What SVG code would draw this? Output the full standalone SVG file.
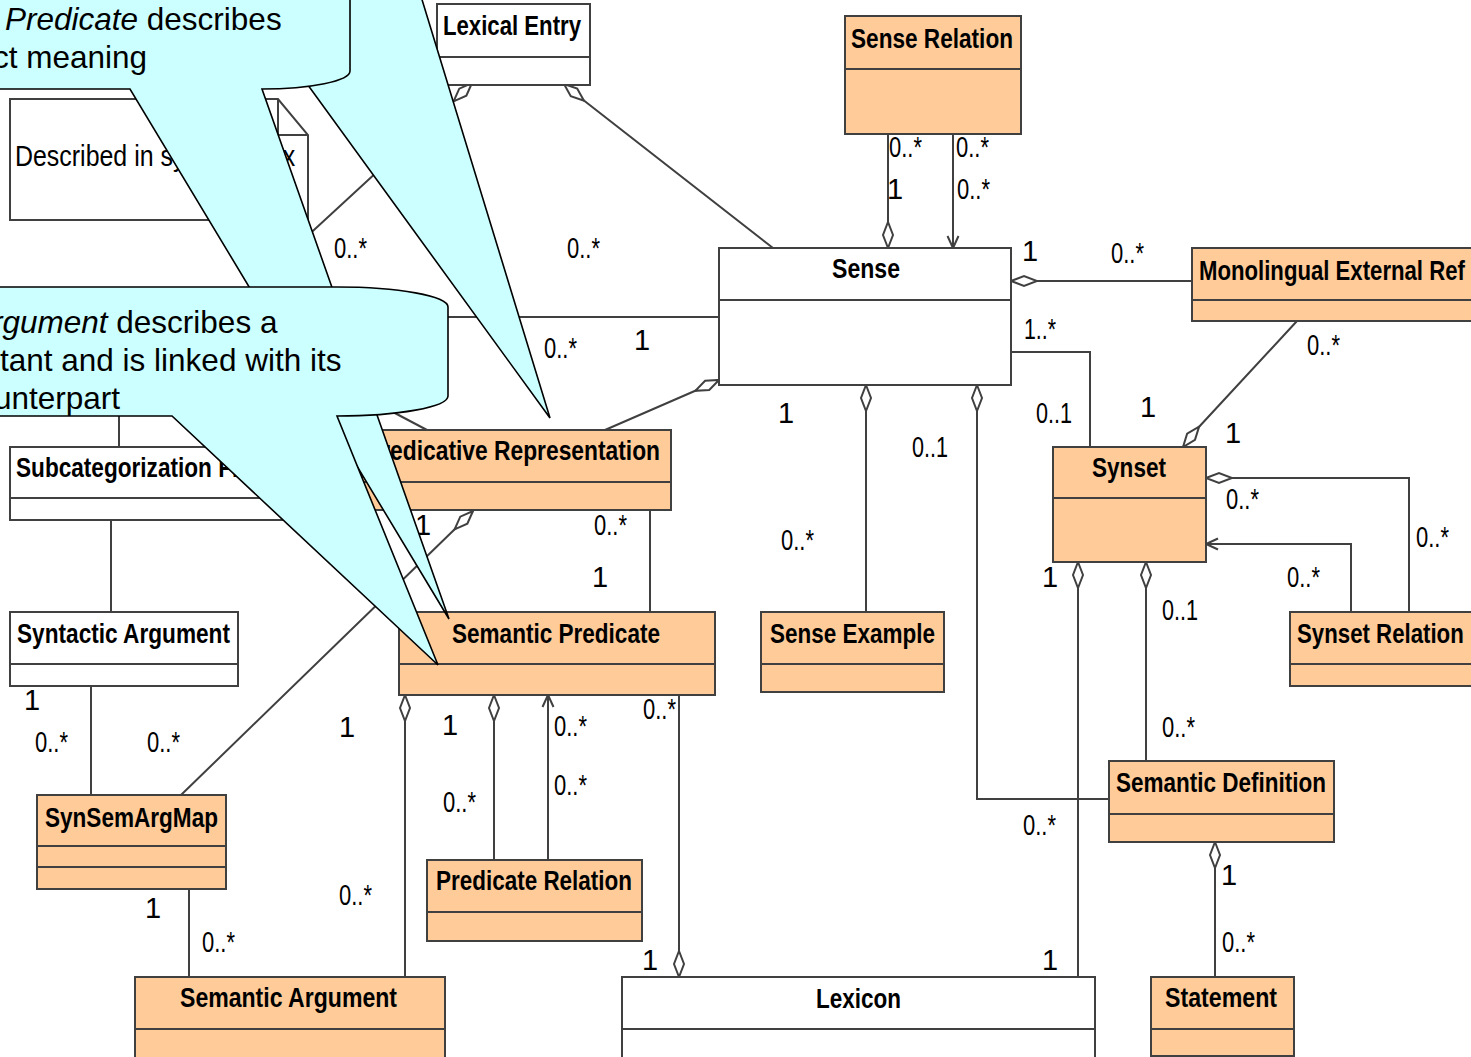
<svg xmlns="http://www.w3.org/2000/svg" width="1471" height="1057" viewBox="0 0 1471 1057">
<style>
.cn{fill:none;stroke:#404040;stroke-width:2}
.box{stroke:#404040;stroke-width:2}
.w{fill:#fff}
.p{fill:#ffcc99}
.dv{stroke:#404040;stroke-width:2}
.nm{font-family:"Liberation Sans",Arial,sans-serif;font-weight:bold;font-size:27px;fill:#000}
.lb{font-family:"Liberation Sans",Arial,sans-serif;font-size:29px;fill:#000}
.nt{font-family:"Liberation Sans",Arial,sans-serif;font-size:29px;fill:#000}
.co{fill:#ccffff;stroke:#000;stroke-width:1.6}
.ct{font-family:"Liberation Sans",Arial,sans-serif;font-size:31.5px;fill:#000}
.it{font-style:italic}
</style>
<defs>
<marker id="dia" markerUnits="userSpaceOnUse" markerWidth="30" markerHeight="14" refX="0" refY="7" orient="auto" overflow="visible">
<path d="M0,7 L13,2 L26,7 L13,12 Z" fill="#fff" stroke="#404040" stroke-width="2"/>
</marker>
<marker id="arr" markerUnits="userSpaceOnUse" markerWidth="14" markerHeight="14" refX="12" refY="7" orient="auto" overflow="visible">
<path d="M0,1.5 L12,7 L0,12.5" fill="none" stroke="#404040" stroke-width="2"/>
</marker>
</defs>
<rect x="0" y="0" width="1471" height="1057" fill="#fff"/>

<g id="connectors">
<path class="cn" marker-start="url(#dia)" d="M472,83 L455,100 L200,335"/>
<path class="cn" marker-start="url(#dia)" d="M564,84 L582,99 L773,248"/>
<path class="cn" marker-start="url(#dia)" d="M888,248 L888,135"/>
<path class="cn" marker-end="url(#arr)" d="M953,135 L953,248"/>
<path class="cn" marker-start="url(#dia)" d="M1011,281 L1192,281"/>
<path class="cn" d="M1011,352 L1090,352 L1090,447"/>
<path class="cn" marker-start="url(#dia)" d="M1183,447 L1198,428 L1297,321"/>
<path class="cn" marker-start="url(#dia)" d="M1206,478 L1409,478 L1409,612"/>
<path class="cn" marker-end="url(#arr)" d="M1351,612 L1351,544 L1206,544"/>
<path class="cn" marker-start="url(#dia)" d="M1078,562 L1078,977"/>
<path class="cn" marker-start="url(#dia)" d="M1146,562 L1146,761"/>
<path class="cn" marker-start="url(#dia)" d="M977,385 L977,799 L1109,799"/>
<path class="cn" marker-start="url(#dia)" d="M866,385 L866,612"/>
<path class="cn" marker-start="url(#dia)" d="M1215,842 L1215,977"/>
<path class="cn" marker-start="url(#dia)" d="M679,977 L679,695"/>
<path class="cn" d="M650,510 L650,612"/>
<path class="cn" marker-start="url(#dia)" d="M719,380 L697,390 L605,430"/>
<path class="cn" d="M719,317 L400,317"/>
<path class="cn" d="M300,363 L427,430"/>
<path class="cn" marker-start="url(#dia)" d="M473,511 L457,527 L181,795"/>
<path class="cn" d="M111,520 L111,612"/>
<path class="cn" d="M91,686 L91,795"/>
<path class="cn" d="M119,400 L119,447"/>
<path class="cn" d="M189,889 L189,977"/>
<path class="cn" marker-start="url(#dia)" d="M405,695 L405,977"/>
<path class="cn" marker-start="url(#dia)" d="M494,695 L494,860"/>
<path class="cn" marker-end="url(#arr)" d="M548,860 L548,695"/>
</g>

<g id="lexical-entry"><rect class="box w" x="437" y="4" width="153" height="81"/><line class="dv" x1="437" y1="57" x2="590" y2="57"/><text class="nm" x="443" y="35" textLength="138" lengthAdjust="spacingAndGlyphs">Lexical Entry</text></g>
<g id="sense-relation"><rect class="box p" x="845" y="16" width="176" height="118"/><line class="dv" x1="845" y1="69" x2="1021" y2="69"/><text class="nm" x="851" y="48" textLength="162" lengthAdjust="spacingAndGlyphs">Sense Relation</text></g>
<g id="sense"><rect class="box w" x="719" y="248" width="292" height="137"/><line class="dv" x1="719" y1="300" x2="1011" y2="300"/><text class="nm" x="832" y="278" textLength="68" lengthAdjust="spacingAndGlyphs">Sense</text></g>
<g id="monolingual-external-ref"><rect class="box p" x="1192" y="248" width="283" height="73"/><line class="dv" x1="1192" y1="300" x2="1475" y2="300"/><text class="nm" transform="translate(1199,280) scale(0.821,1)">Monolingual External Ref</text></g>
<g id="synset"><rect class="box p" x="1053" y="447" width="153" height="115"/><line class="dv" x1="1053" y1="498" x2="1206" y2="498"/><text class="nm" x="1092" y="477" textLength="74" lengthAdjust="spacingAndGlyphs">Synset</text></g>
<g id="synset-relation"><rect class="box p" x="1290" y="612" width="185" height="74"/><line class="dv" x1="1290" y1="664" x2="1475" y2="664"/><text class="nm" transform="translate(1297,643) scale(0.824,1)">Synset Relation</text></g>
<g id="sense-example"><rect class="box p" x="761" y="612" width="183" height="80"/><line class="dv" x1="761" y1="664" x2="944" y2="664"/><text class="nm" x="770" y="643" textLength="165" lengthAdjust="spacingAndGlyphs">Sense Example</text></g>
<g id="semantic-definition"><rect class="box p" x="1109" y="761" width="225" height="81"/><line class="dv" x1="1109" y1="814" x2="1334" y2="814"/><text class="nm" x="1116" y="792" textLength="210" lengthAdjust="spacingAndGlyphs">Semantic Definition</text></g>
<g id="statement"><rect class="box p" x="1151" y="977" width="143" height="79"/><line class="dv" x1="1151" y1="1029" x2="1294" y2="1029"/><text class="nm" x="1165" y="1007" textLength="112" lengthAdjust="spacingAndGlyphs">Statement</text></g>
<g id="lexicon"><rect class="box w" x="622" y="977" width="473" height="85"/><line class="dv" x1="622" y1="1029" x2="1095" y2="1029"/><text class="nm" x="816" y="1008" textLength="85" lengthAdjust="spacingAndGlyphs">Lexicon</text></g>
<g id="semantic-predicate"><rect class="box p" x="399" y="612" width="316" height="83"/><line class="dv" x1="399" y1="664" x2="715" y2="664"/><text class="nm" x="452" y="643" textLength="208" lengthAdjust="spacingAndGlyphs">Semantic Predicate</text></g>
<g id="predicative-representation"><rect class="box p" x="362" y="430" width="309" height="80"/><line class="dv" x1="362" y1="482" x2="671" y2="482"/><text class="nm" x="366" y="460" textLength="294" lengthAdjust="spacingAndGlyphs">Predicative Representation</text></g>
<g id="predicate-relation"><rect class="box p" x="427" y="860" width="215" height="81"/><line class="dv" x1="427" y1="912" x2="642" y2="912"/><text class="nm" x="436" y="890" textLength="196" lengthAdjust="spacingAndGlyphs">Predicate Relation</text></g>
<g id="subcategorization-frame"><rect class="box w" x="10" y="447" width="290" height="73"/><line class="dv" x1="10" y1="498" x2="300" y2="498"/><text class="nm" x="16" y="477" textLength="270" lengthAdjust="spacingAndGlyphs">Subcategorization Frame</text></g>
<g id="syntactic-argument"><rect class="box w" x="10" y="612" width="228" height="74"/><line class="dv" x1="10" y1="664" x2="238" y2="664"/><text class="nm" x="17" y="643" textLength="213" lengthAdjust="spacingAndGlyphs">Syntactic Argument</text></g>
<g id="synsemargmap"><rect class="box p" x="37" y="795" width="189" height="94"/><line class="dv" x1="37" y1="846" x2="226" y2="846"/><line class="dv" x1="37" y1="867" x2="226" y2="867"/><text class="nm" x="45" y="827" textLength="173" lengthAdjust="spacingAndGlyphs">SynSemArgMap</text></g>
<g id="semantic-argument"><rect class="box p" x="135" y="977" width="310" height="85"/><line class="dv" x1="135" y1="1029" x2="445" y2="1029"/><text class="nm" x="180" y="1007" textLength="217" lengthAdjust="spacingAndGlyphs">Semantic Argument</text></g>
<g id="note-syntax"><path class="box w" d="M10,99 L278,99 L308,135 L308,220 L10,220 Z"/><path class="cn" d="M278,99 L278,135 L308,135"/><text class="nt" transform="translate(15,166) scale(0.86,1)">Described in sy<tspan x="271">ntax</tspan></text></g>

<g id="multiplicities">
<text class="lb" x="334" y="258" textLength="33" lengthAdjust="spacingAndGlyphs">0..*</text>
<text class="lb" x="567" y="258" textLength="33" lengthAdjust="spacingAndGlyphs">0..*</text>
<text class="lb" x="889" y="157" textLength="33" lengthAdjust="spacingAndGlyphs">0..*</text>
<text class="lb" x="887" y="199">1</text>
<text class="lb" x="956" y="157" textLength="33" lengthAdjust="spacingAndGlyphs">0..*</text>
<text class="lb" x="957" y="199" textLength="33" lengthAdjust="spacingAndGlyphs">0..*</text>
<text class="lb" x="1022" y="261">1</text>
<text class="lb" x="1111" y="263" textLength="33" lengthAdjust="spacingAndGlyphs">0..*</text>
<text class="lb" x="1024" y="339" textLength="32" lengthAdjust="spacingAndGlyphs">1..*</text>
<text class="lb" x="1036" y="423" textLength="36" lengthAdjust="spacingAndGlyphs">0..1</text>
<text class="lb" x="1140" y="417">1</text>
<text class="lb" x="1307" y="355" textLength="33" lengthAdjust="spacingAndGlyphs">0..*</text>
<text class="lb" x="1225" y="443">1</text>
<text class="lb" x="1226" y="509" textLength="33" lengthAdjust="spacingAndGlyphs">0..*</text>
<text class="lb" x="1416" y="547" textLength="33" lengthAdjust="spacingAndGlyphs">0..*</text>
<text class="lb" x="1287" y="587" textLength="33" lengthAdjust="spacingAndGlyphs">0..*</text>
<text class="lb" x="1042" y="587">1</text>
<text class="lb" x="1162" y="620" textLength="36" lengthAdjust="spacingAndGlyphs">0..1</text>
<text class="lb" x="1162" y="737" textLength="33" lengthAdjust="spacingAndGlyphs">0..*</text>
<text class="lb" x="1042" y="970">1</text>
<text class="lb" x="912" y="457" textLength="36" lengthAdjust="spacingAndGlyphs">0..1</text>
<text class="lb" x="1023" y="835" textLength="33" lengthAdjust="spacingAndGlyphs">0..*</text>
<text class="lb" x="778" y="423">1</text>
<text class="lb" x="781" y="550" textLength="33" lengthAdjust="spacingAndGlyphs">0..*</text>
<text class="lb" x="1221" y="885">1</text>
<text class="lb" x="1222" y="952" textLength="33" lengthAdjust="spacingAndGlyphs">0..*</text>
<text class="lb" x="643" y="719" textLength="33" lengthAdjust="spacingAndGlyphs">0..*</text>
<text class="lb" x="642" y="970">1</text>
<text class="lb" x="594" y="535" textLength="33" lengthAdjust="spacingAndGlyphs">0..*</text>
<text class="lb" x="592" y="587">1</text>
<text class="lb" x="415" y="535">1</text>
<text class="lb" x="147" y="752" textLength="33" lengthAdjust="spacingAndGlyphs">0..*</text>
<text class="lb" x="24" y="710">1</text>
<text class="lb" x="35" y="752" textLength="33" lengthAdjust="spacingAndGlyphs">0..*</text>
<text class="lb" x="145" y="918">1</text>
<text class="lb" x="202" y="952" textLength="33" lengthAdjust="spacingAndGlyphs">0..*</text>
<text class="lb" x="339" y="737">1</text>
<text class="lb" x="339" y="905" textLength="33" lengthAdjust="spacingAndGlyphs">0..*</text>
<text class="lb" x="442" y="735">1</text>
<text class="lb" x="443" y="812" textLength="33" lengthAdjust="spacingAndGlyphs">0..*</text>
<text class="lb" x="554" y="736" textLength="33" lengthAdjust="spacingAndGlyphs">0..*</text>
<text class="lb" x="554" y="795" textLength="33" lengthAdjust="spacingAndGlyphs">0..*</text>
<text class="lb" x="544" y="358" textLength="33" lengthAdjust="spacingAndGlyphs">0..*</text>
<text class="lb" x="634" y="350">1</text>
</g>

<g id="callout-predicative">
<path class="co" d="M231.5,-20 L416,-20 L550,418 Z"/>
</g>
<g id="callout-predicate">
<path class="co" d="M-20,-40 L350,-40 L350,71 A88,18 0 0 1 262,89 L449,619 L130,89 L-20,89 Z"/>
<text class="ct" x="5" y="30"><tspan class="it">Predicate</tspan> describes</text>
<text class="ct" x="-7" y="68">ct meaning</text>
</g>
<g id="callout-argument">
<path class="co" d="M-20,287 L337,287 A111,20 0 0 1 448,307 L448,396 A111,20 0 0 1 337,416 L438,665 L172,416 L-20,416 Z"/>
<text class="ct" x="-8" y="333"><tspan class="it">rgument</tspan> describes a</text>
<text class="ct" x="0" y="371">tant and is linked with its</text>
<text class="ct" x="-6" y="409">unterpart</text>
</g>
</svg>
